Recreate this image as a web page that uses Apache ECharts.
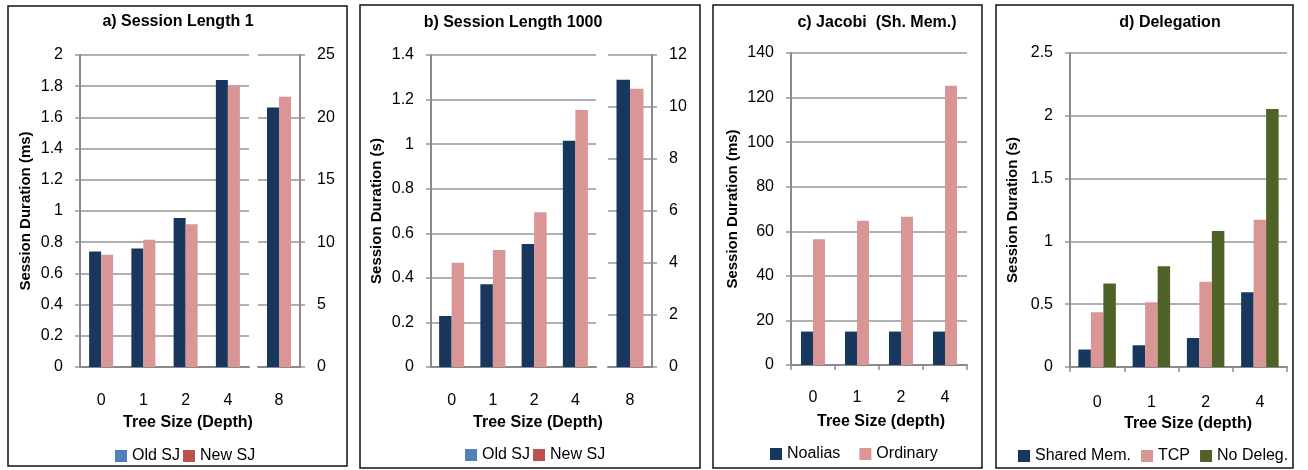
<!DOCTYPE html>
<html>
<head>
<meta charset="utf-8">
<script src="https://cdn.jsdelivr.net/npm/echarts@6/dist/echarts.min.js"></script>
<style>
html,body{margin:0;padding:0;background:#fff;}
#chart{width:1308px;height:470px;}
</style>
</head>
<body>
<div id="chart"></div>
<script>
// ---- data ----
const catsLeft = ['0', '1', '2', '4'];
const catsRight = ['8'];
const aOldLeft = [0.74, 0.76, 0.955, 1.84];
const aNewLeft = [0.72, 0.815, 0.915, 1.80];
const aOldRight = [20.8];
const aNewRight = [21.65];
const bOldLeft = [0.229, 0.371, 0.552, 1.015];
const bNewLeft = [0.468, 0.525, 0.694, 1.153];
const bOldRight = [11.05];
const bNewRight = [10.7];
const catsC = ['0', '1', '2', '4'];
const cNoalias = [15, 15, 15, 15];
const cOrdinary = [56.4, 64.7, 66.5, 125.3];
const catsD = ['0', '1', '2', '4'];
const dShared = [0.139, 0.173, 0.231, 0.596];
const dTcp = [0.436, 0.516, 0.678, 1.172];
const dNoDeleg = [0.665, 0.803, 1.082, 2.055];

const titles = ['a) Session Length 1', 'b) Session Length 1000', 'c) Jacobi  (Sh. Mem.)', 'd) Delegation'];
const xNames = ['Tree Size (Depth)', 'Tree Size (Depth)', 'Tree Size (depth)', 'Tree Size (depth)'];
const yNames = ['Session Duration (ms)', 'Session Duration (s)', 'Session Duration (ms)', 'Session Duration (s)'];

// ---- styles ----
const NAVY = '#17375E', PINK = '#D99694', GREEN = '#4F6228';
const LEG_BLUE = '#4F81BD', LEG_RED = '#C0504D';
const GRID_C = '#969696', AXIS_C = '#8a8a8a';
const FONT = 'Liberation Sans, Arial, sans-serif';

const chart = echarts.init(document.getElementById('chart'), null, {renderer: 'canvas'});

function xCat(gridIndex, data, ticks, margin) {
  return {
    type: 'category', gridIndex, data,
    axisLine: {show: true, lineStyle: {color: AXIS_C, width: 2}},
    axisTick: {show: ticks, length: 5, inside: false, alignWithLabel: false, lineStyle: {color: AXIS_C, width: 1.5}},
    axisLabel: {color: '#000', fontSize: 16, fontFamily: FONT, margin},
    splitLine: {show: false}
  };
}
function yVal(gridIndex, min, max, interval, position, name, nameGap) {
  return {
    type: 'value', gridIndex, min, max, interval, position,
    name: name || '', nameLocation: 'middle', nameRotate: 90, nameGap: nameGap || 0,
    nameTextStyle: {color: '#000', fontSize: 15, fontWeight: 'bold', fontFamily: FONT},
    axisLine: {show: true, lineStyle: {color: AXIS_C, width: 2}},
    axisTick: {show: true, length: 5, inside: false, lineStyle: {color: GRID_C, width: 1.5}},
    axisLabel: {color: '#000', fontSize: 16, fontFamily: FONT, margin: 17},
    splitLine: {show: true, lineStyle: {color: GRID_C, width: 1.5}}
  };
}
function bar(name, data, xi, yi, color, w) {
  return {type: 'bar', name, data, xAxisIndex: xi, yAxisIndex: yi, barWidth: w, barGap: '0%',
    itemStyle: {color}, animation: false, emphasis: {disabled: true}};
}
function legend(left, top, gap, items) {
  return {left, top, itemGap: gap, itemWidth: 12, itemHeight: 12, icon: 'rect', selectedMode: false,
    padding: 0, textStyle: {color: '#000', fontSize: 16, fontFamily: FONT},
    data: items.map(it => ({name: it[0], itemStyle: {color: it[1]}}))};
}
function ttl(text, cx, cy, size) {
  return {text, left: cx, top: cy, textAlign: 'center', textVerticalAlign: 'middle', padding: 0,
    textStyle: {color: '#000', fontSize: size, fontWeight: 'bold', fontFamily: FONT}};
}

const option = {
  backgroundColor: '#fff',
  animation: false,
  title: [
    ttl(titles[0], 178, 22, 16), ttl(titles[1], 513, 23, 16), ttl(titles[2], 877, 23, 16), ttl(titles[3], 1170, 23, 16),
    ttl(xNames[0], 188, 423, 16), ttl(xNames[1], 538, 423, 16), ttl(xNames[2], 881, 422, 16), ttl(xNames[3], 1188, 424, 16)
  ],
  grid: [
    {left: 80, top: 55, width: 169, height: 312},
    {left: 258, top: 55, width: 42, height: 312},
    {left: 431, top: 55, width: 165, height: 312},
    {left: 608, top: 55, width: 44, height: 312},
    {left: 791, top: 53, width: 176, height: 312},
    {left: 1070, top: 53, width: 217, height: 314}
  ],
  xAxis: [
    xCat(0, catsLeft, false, 26), xCat(1, catsRight, false, 26),
    xCat(2, catsLeft, false, 26), xCat(3, catsRight, false, 26),
    xCat(4, catsC, true, 25), xCat(5, catsD, true, 28)
  ],
  yAxis: [
    yVal(0, 0, 2, 0.2, 'left', yNames[0], 47),
    yVal(1, 0, 25, 5, 'right'),
    yVal(2, 0, 1.4, 0.2, 'left', yNames[1], 47),
    yVal(3, 0, 12, 2, 'right'),
    yVal(4, 0, 140, 20, 'left', yNames[2], 51),
    yVal(5, 0, 2.5, 0.5, 'left', yNames[3], 50)
  ],
  legend: [
    legend(115, 448, 3, [['Old SJ', LEG_BLUE], ['New SJ', LEG_RED]]),
    legend(465, 447, 3, [['Old SJ', LEG_BLUE], ['New SJ', LEG_RED]]),
    legend(770, 446, 19, [['Noalias', NAVY], ['Ordinary', PINK]]),
    legend(1018, 448, 10, [['Shared Mem.', NAVY], ['TCP', PINK], ['No Deleg.', GREEN]])
  ],
  series: [
    bar('Old SJ', aOldLeft, 0, 0, NAVY, 12),
    bar('New SJ', aNewLeft, 0, 0, PINK, 12),
    bar('Old SJ', aOldRight, 1, 1, NAVY, 12),
    bar('New SJ', aNewRight, 1, 1, PINK, 12),
    bar('Old SJ', bOldLeft, 2, 2, NAVY, 12.5),
    bar('New SJ', bNewLeft, 2, 2, PINK, 12.5),
    bar('Old SJ', bOldRight, 3, 3, NAVY, 13.5),
    bar('New SJ', bNewRight, 3, 3, PINK, 13.5),
    bar('Noalias', cNoalias, 4, 4, NAVY, 12),
    bar('Ordinary', cOrdinary, 4, 4, PINK, 12),
    bar('Shared Mem.', dShared, 5, 5, NAVY, 12.5),
    bar('TCP', dTcp, 5, 5, PINK, 12.5),
    bar('No Deleg.', dNoDeleg, 5, 5, GREEN, 12.5)
  ],
  graphic: [
    {type: 'rect', shape: {x: 8, y: 6, width: 339, height: 460}, style: {fill: null, stroke: '#111', lineWidth: 1.5}, silent: true},
    {type: 'rect', shape: {x: 360, y: 5, width: 340, height: 463}, style: {fill: null, stroke: '#111', lineWidth: 1.5}, silent: true},
    {type: 'rect', shape: {x: 713, y: 5, width: 269, height: 463}, style: {fill: null, stroke: '#111', lineWidth: 1.5}, silent: true},
    {type: 'rect', shape: {x: 996, y: 5, width: 297, height: 463}, style: {fill: null, stroke: '#111', lineWidth: 1.5}, silent: true}
  ]
};
chart.setOption(option);
</script>
</body>
</html>
